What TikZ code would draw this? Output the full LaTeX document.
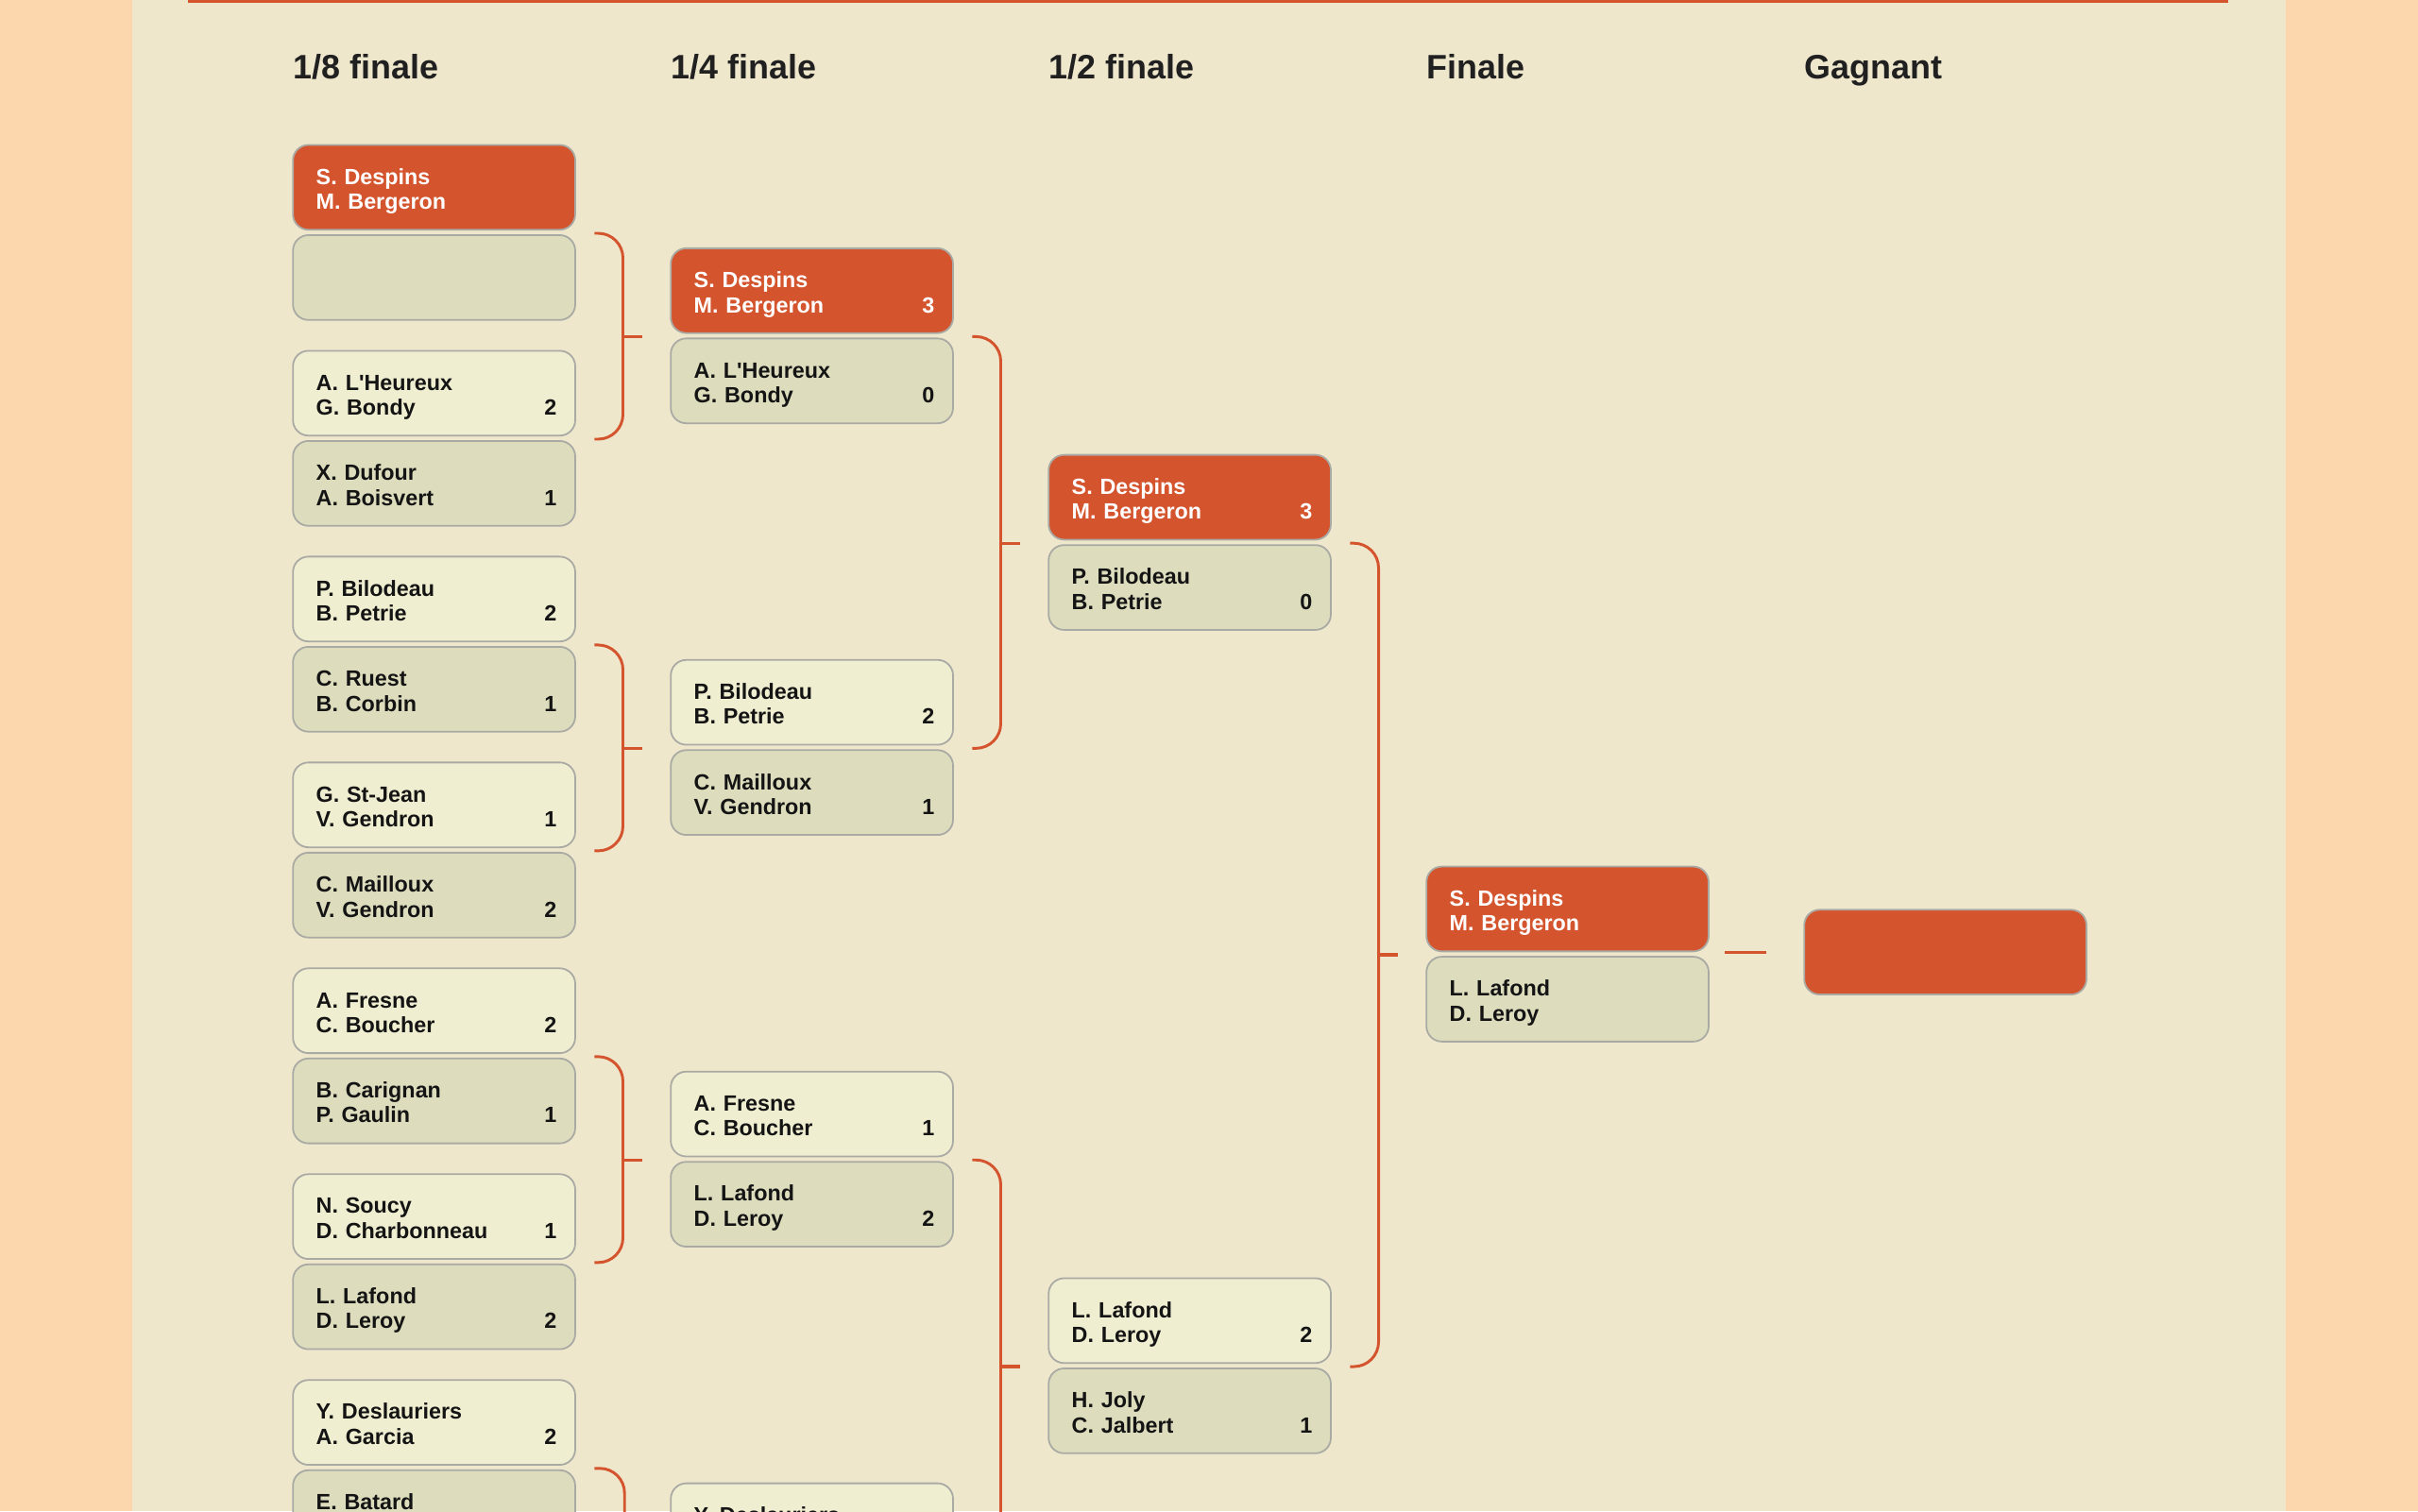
\documentclass[tikz,border=0pt]{standalone}
\usepackage{fontspec}
\setmainfont{Liberation Sans}
\usepackage{tikz}
\usetikzlibrary{positioning}
\definecolor{peche}{RGB}{252,214,172}
\definecolor{papier}{RGB}{239,231,204}
\definecolor{rouge}{RGB}{212,84,46}
\definecolor{clair}{RGB}{240,238,208}
\definecolor{fonce}{RGB}{221,221,190}
\definecolor{bordure}{RGB}{170,170,164}
\definecolor{encre}{RGB}{20,20,20}
\newcommand{\paire}[3]{\rule{0pt}{12.3pt}\hspace*{3pt}\smash{#1}\\\hspace*{3pt}\smash{#2}\hfill\smash{#3}}

\begin{document}
\begin{tikzpicture}[x=1pt, y=-1pt,
      node distance=58.5pt,
      on grid,
      equipe/.style={rectangle, rounded corners=10pt, draw=bordure,
        line width=1.1pt, minimum width=183pt, minimum height=55pt,
        inner sep=0pt, text width=159pt, align=left, text=encre,
        font=\bfseries\fontsize{14.3}{16.2}\selectfont},
      clair/.style={equipe, fill=clair},
      fonce/.style={equipe, fill=fonce},
      vainqueur/.style={equipe, fill=rouge, text=white},
      titre/.style={anchor=base west, inner sep=0pt, text=encre!95,
        font=\bfseries\fontsize{22}{26}\selectfont},
      accolade/.style={draw=rouge, line width=1.8pt, rounded corners=16pt},
      trait/.style={draw=rouge, line width=2pt}]

    \useasboundingbox (0,0) rectangle (1568,980);
    \clip (0,0) rectangle (1568,980);
    \fill[peche] (0,0) rectangle (1568,980);
    \fill[papier] (86,0) rectangle (1482,980);
    \fill[rouge] (122,0) rectangle (1445,1.6);

    \node[titre] (T8) at (190,51.4) {1/8 finale};
    \node[titre] (T4) at (435,51.4) {1/4 finale};
    \node[titre] (T2) at (680,51.4) {1/2 finale};
    \node[titre] (TF) at (925,51.4) {Finale};
    \node[titre] (TG) at (1170,51.4) {Gagnant};

    % 1/8 finale
    \node[vainqueur]
      (H1A) at (281.5,121.5) {\paire{S. Despins}{M. Bergeron}{}};
    \node[fonce]
      (H1B) [below=of H1A] {};
    \node[clair]
      (H2A) at (281.5,255) {\paire{A. L\textquotesingle Heureux}{G. Bondy}{2}};
    \node[fonce]
      (H2B) [below=of H2A] {\paire{X. Dufour}{A. Boisvert}{1}};
    \node[clair]
      (H3A) at (281.5,388.5) {\paire{P. Bilodeau}{B. Petrie}{2}};
    \node[fonce]
      (H3B) [below=of H3A] {\paire{C. Ruest}{B. Corbin}{1}};
    \node[clair]
      (H4A) at (281.5,522) {\paire{G. St-Jean}{V. Gendron}{1}};
    \node[fonce]
      (H4B) [below=of H4A] {\paire{C. Mailloux}{V. Gendron}{2}};
    \node[clair]
      (H5A) at (281.5,655.5) {\paire{A. Fresne}{C. Boucher}{2}};
    \node[fonce]
      (H5B) [below=of H5A] {\paire{B. Carignan}{P. Gaulin}{1}};
    \node[clair]
      (H6A) at (281.5,789) {\paire{N. Soucy}{D. Charbonneau}{1}};
    \node[fonce]
      (H6B) [below=of H6A] {\paire{L. Lafond}{D. Leroy}{2}};
    \node[clair]
      (H7A) at (281.5,922.5) {\paire{Y. Deslauriers}{A. Garcia}{2}};
    \node[fonce]
      (H7B) [below=of H7A] {\paire{E. Batard}{}{}};

    % 1/4 finale
    \node[vainqueur]
      (Q1A) at (526.5,188.5) {\paire{S. Despins}{M. Bergeron}{3}};
    \node[fonce]
      (Q1B) [below=of Q1A] {\paire{A. L\textquotesingle Heureux}{G. Bondy}{0}};
    \node[clair]
      (Q2A) at (526.5,455.5) {\paire{P. Bilodeau}{B. Petrie}{2}};
    \node[fonce]
      (Q2B) [below=of Q2A] {\paire{C. Mailloux}{V. Gendron}{1}};
    \node[clair]
      (Q3A) at (526.5,722.5) {\paire{A. Fresne}{C. Boucher}{1}};
    \node[fonce]
      (Q3B) [below=of Q3A] {\paire{L. Lafond}{D. Leroy}{2}};
    \node[clair]
      (Q4A) at (526.5,989.5) {\paire{Y. Deslauriers}{}{}};

    % 1/2 finale
    \node[vainqueur]
      (D1A) at (771.5,322.5) {\paire{S. Despins}{M. Bergeron}{3}};
    \node[fonce]
      (D1B) [below=of D1A] {\paire{P. Bilodeau}{B. Petrie}{0}};
    \node[clair]
      (D2A) at (771.5,856.5) {\paire{L. Lafond}{D. Leroy}{2}};
    \node[fonce]
      (D2B) [below=of D2A] {\paire{H. Joly}{C. Jalbert}{1}};

    % finale et gagnant
    \node[vainqueur]
      (F1A) at (1016.5,589.5) {\paire{S. Despins}{M. Bergeron}{}};
    \node[fonce]
      (F1B) [below=of F1A] {\paire{L. Lafond}{D. Leroy}{}};
    \node[vainqueur]
      (Gagnant) at (1261.5,617.5) {};

    \coordinate (Fond1) at (405,1000);

    \draw[accolade] ([xshift=12pt,yshift=-1.75pt]H1A.south east) -| ([xshift=-30.5pt,yshift=-1.75pt]Q1A.south west) |- ([xshift=12pt,yshift=-1.75pt]H2A.south east);
    \draw[accolade] ([xshift=12pt,yshift=-1.75pt]H3A.south east) -| ([xshift=-30.5pt,yshift=-1.75pt]Q2A.south west) |- ([xshift=12pt,yshift=-1.75pt]H4A.south east);
    \draw[accolade] ([xshift=12pt,yshift=-1.75pt]H5A.south east) -| ([xshift=-30.5pt,yshift=-1.75pt]Q3A.south west) |- ([xshift=12pt,yshift=-1.75pt]H6A.south east);
    \draw[accolade] ([xshift=12pt,yshift=-1.75pt]H7A.south east) -| (Fond1);
    \draw[accolade] ([xshift=12pt,yshift=-1.75pt]Q1A.south east) -| ([xshift=-30.5pt,yshift=-1.75pt]D1A.south west) |- ([xshift=12pt,yshift=-1.75pt]Q2A.south east);
    \draw[accolade] ([xshift=12pt,yshift=-1.75pt]Q3A.south east) -| ([xshift=-30.5pt,yshift=-1.75pt]D2A.south west) |- ([xshift=12pt,yshift=-1.75pt]Q4A.south east);
    \draw[accolade] ([xshift=12pt,yshift=-1.75pt]D1A.south east) -| ([xshift=-30.5pt,yshift=-1.75pt]F1A.south west) |- ([xshift=12pt,yshift=-1.75pt]D2A.south east);

    \draw[trait] ([xshift=-30.5pt,yshift=-1.75pt]Q1A.south west) -- ([xshift=-18pt,yshift=-1.75pt]Q1A.south west);
    \draw[trait] ([xshift=-30.5pt,yshift=-1.75pt]Q2A.south west) -- ([xshift=-18pt,yshift=-1.75pt]Q2A.south west);
    \draw[trait] ([xshift=-30.5pt,yshift=-1.75pt]Q3A.south west) -- ([xshift=-18pt,yshift=-1.75pt]Q3A.south west);
    \draw[trait] ([xshift=-30.5pt,yshift=-1.75pt]D1A.south west) -- ([xshift=-18pt,yshift=-1.75pt]D1A.south west);
    \draw[trait] ([xshift=-30.5pt,yshift=-1.75pt]D2A.south west) -- ([xshift=-18pt,yshift=-1.75pt]D2A.south west);
    \draw[trait] ([xshift=-30.5pt,yshift=-1.75pt]F1A.south west) -- ([xshift=-18pt,yshift=-1.75pt]F1A.south west);
    \draw[trait] ([xshift=-51pt]Gagnant.west) -- ([xshift=-24pt]Gagnant.west);

  \end{tikzpicture}
\end{document}
